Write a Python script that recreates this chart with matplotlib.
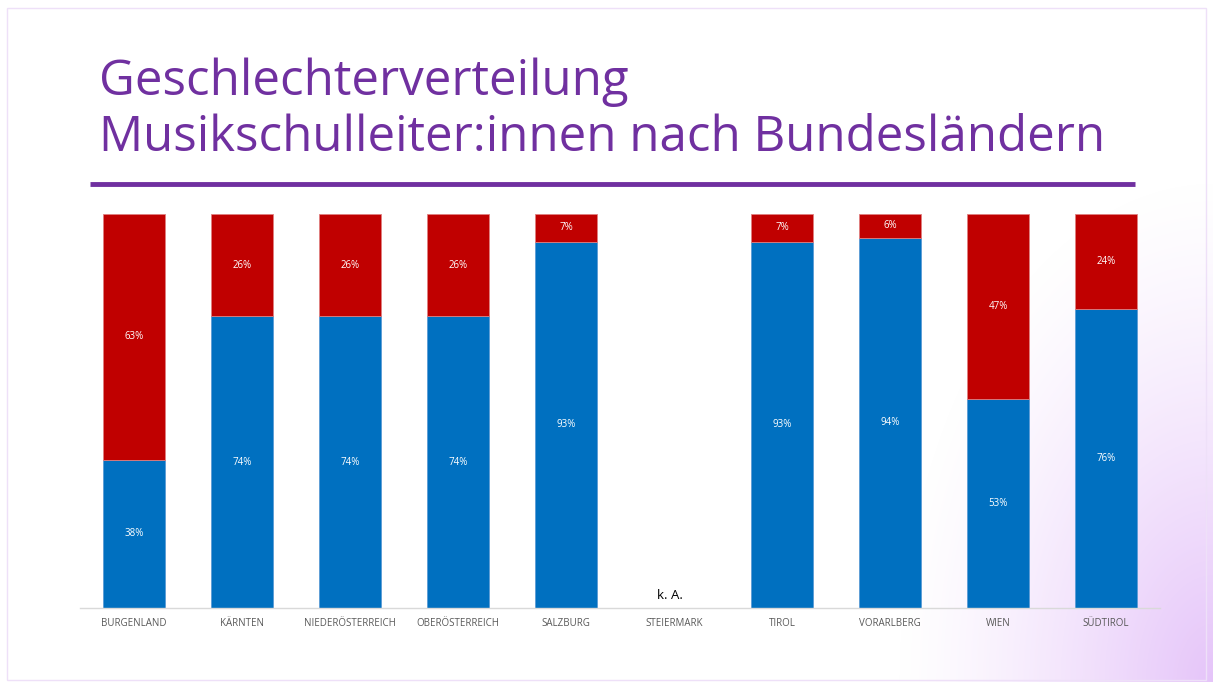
import numpy as np
import matplotlib.pyplot as plt
from matplotlib.patches import Rectangle

# Daten
bundeslaender = ["BURGENLAND", "KÄRNTEN", "NIEDERÖSTERREICH", "OBERÖSTERREICH", "SALZBURG",
                 "STEIERMARK", "TIROL", "VORARLBERG", "WIEN", "SÜDTIROL"]
maennlich = [38, 74, 74, 74, 93, np.nan, 93, 94, 53, 76]
weiblich = [63, 26, 26, 26, 7, np.nan, 7, 6, 47, 24]
keine_angabe = "k. A."

titel_1 = "Geschlechterverteilung"
titel_2 = "Musikschulleiter:innen nach Bundesländern"

blau = "#0070C0"
rot = "#C00000"
lila = "#7030A0"

W, H = 1213, 682
fig = plt.figure(figsize=(W / 100, H / 100), dpi=100)

# Hintergrund mit Verlauf unten rechts
bg = fig.add_axes([0, 0, 1, 1], zorder=0)
bg.set_xlim(0, W)
bg.set_ylim(H, 0)
bg.axis("off")
yy, xx = np.mgrid[0:H, 0:W]
d = np.hypot((W - xx) * 1.35, (H - yy) * 0.85)
a = np.clip(1 - d / 430, 0, 1) ** 1.3
img = np.zeros((H, W, 4))
img[..., 0] = 0.90
img[..., 1] = 0.77
img[..., 2] = 0.98
img[..., 3] = a
bg.imshow(img, extent=[0, W, H, 0], aspect="auto")
bg.add_patch(Rectangle((7, 8), W - 14, H - 10, fill=False, ec="#EEE0F8", lw=1))
bg.plot([90, 1135], [184, 184], color=lila, lw=3.5, solid_capstyle="butt")
bg.text(99, 95, titel_1, fontsize=35.5, color=lila, family="Open Sans",
        va="baseline", ha="left")
bg.text(99, 151, titel_2, fontsize=35.5, color=lila, family="Open Sans",
        va="baseline", ha="left")

ax = fig.add_axes([80 / W, 1 - 608 / H, 1080 / W, 394 / H], zorder=1)
ax.patch.set_alpha(0)

m = np.array(maennlich, dtype=float)
w = np.array(weiblich, dtype=float)
summe = m + w
m_ant = m / summe
w_ant = w / summe
x = np.arange(len(bundeslaender))

ax.bar(x, m_ant, width=0.565, color=blau, edgecolor="#5B9BD5", linewidth=0.6)
ax.bar(x, w_ant, bottom=m_ant, width=0.565, color=rot, edgecolor="#E08080", linewidth=0.6)

for i in range(len(x)):
    if np.isnan(summe[i]):
        ax.text(x[i] - 0.04, 0.015, keine_angabe, ha="center", va="bottom", fontsize=9.5,
                color="black", family="Open Sans")
        continue
    ax.text(x[i], m_ant[i] / 2, f"{int(m[i])}%", ha="center", va="center",
            fontsize=7, color="white", family="Open Sans")
    ax.text(x[i], m_ant[i] + w_ant[i] / 2, f"{int(w[i])}%", ha="center", va="center",
            fontsize=7, color="white", family="Open Sans")

ax.set_xlim(-0.5, len(x) - 0.5)
ax.set_ylim(0, 1)
ax.set_yticks([])
ax.set_xticks(x)
ax.set_xticklabels(bundeslaender, fontsize=7, color="#595959", family="Open Sans")
ax.tick_params(axis="x", length=0, pad=7)
for s in ["top", "right", "left"]:
    ax.spines[s].set_visible(False)
ax.spines["bottom"].set_color("#D9D9D9")
ax.spines["bottom"].set_linewidth(1)

fig.savefig("out.png", dpi=100)
